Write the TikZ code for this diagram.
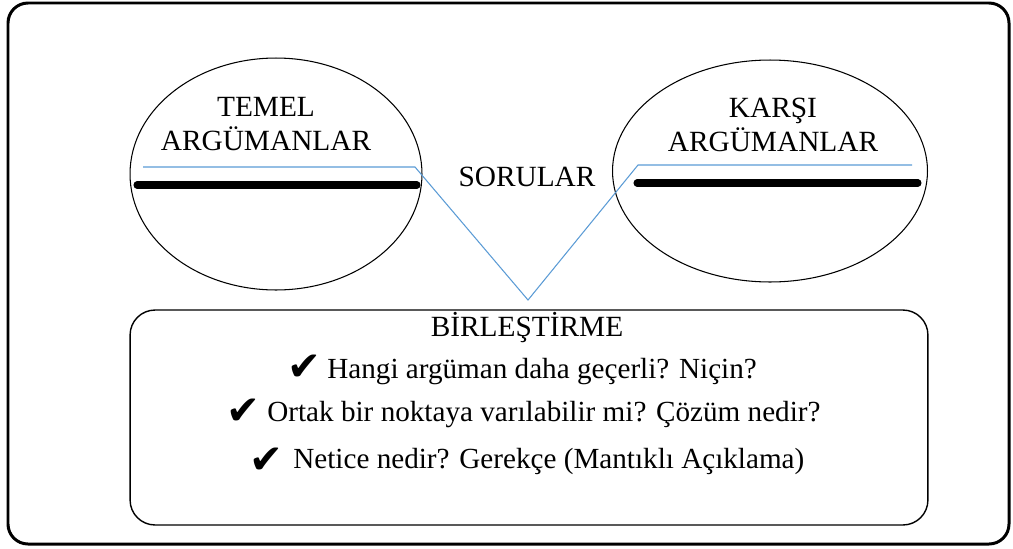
\documentclass[tikz,border=0pt]{standalone}
\usepackage{fontspec}
\setmainfont{Liberation Serif}
\newfontfamily\checkfont{DejaVu Sans}
\usetikzlibrary{shapes.geometric}

\definecolor{linkblue}{RGB}{91,155,213}

\tikzset{
  argbubble/.style={draw, ellipse, line width=0.6pt, inner sep=0},
  headtext/.style={font=\fontsize{16.7}{19}\selectfont, inner sep=0, align=center},
  itemtext/.style={font=\fontsize{16.6}{19}\selectfont, inner sep=0, anchor=mid west},
  checkmark/.style={font=\checkfont\fontsize{23}{23}\selectfont, inner sep=0, anchor=mid east},
  bar/.style={line width=4pt, line cap=round},
  linkline/.style={linkblue, line width=0.6pt}
}

\begin{document}
\begin{tikzpicture}[x=0.02cm, y=-0.02cm]
  \useasboundingbox (0,0) rectangle (1013,548);
  \draw[line width=1.7pt, rounded corners=0.4cm] (8,3) rectangle (1009,544);

  % the two argument bubbles
  \node[argbubble, minimum width=5.84cm, minimum height=4.64cm] (temel) at (276,174) {};
  \node[argbubble, minimum width=6.3cm, minimum height=4.44cm] (karsi) at (770,171) {};
  \node[headtext] (temeltxt) at (266,124) {TEMEL\\ARGÜMANLAR};
  \node[headtext] (karsitxt) at (773,125) {KARŞI\\ARGÜMANLAR};
  \draw[bar] (137,185) -- (417,185);
  \draw[bar] (637,183) -- (918,183);

  % questions link
  \coordinate (vl) at (415,167);
  \coordinate (vr) at (638,165);
  \coordinate (vtip) at (528,300);
  \draw[linkline] (143,167) -- (vl) -- (vtip) -- (vr) -- (912,165);
  \node[headtext] (sorular) at (527,177) {SORULAR};

  % synthesis box
  \node[draw, line width=0.8pt, rounded corners=0.5cm, minimum width=15.96cm, minimum height=4.3cm] (birles) at (529,417.5) {};
  \node[headtext] (birlestitle) at (527,328) {BİRLEŞTİRME};
  \node[itemtext] (q1) at (327,374) {Hangi argüman daha geçerli? Niçin?};
  \node[itemtext] (q2) at (267,417) {Ortak bir noktaya varılabilir mi? Çözüm nedir?};
  \node[itemtext] (q3) at (293,464) {Netice nedir? Gerekçe (Mantıklı Açıklama)};
  \node[checkmark] (c1) at (322,376) {✔};
  \node[checkmark] (c2) at (261,420) {✔};
  \node[checkmark] (c3) at (284,469) {✔};
\end{tikzpicture}
\end{document}
